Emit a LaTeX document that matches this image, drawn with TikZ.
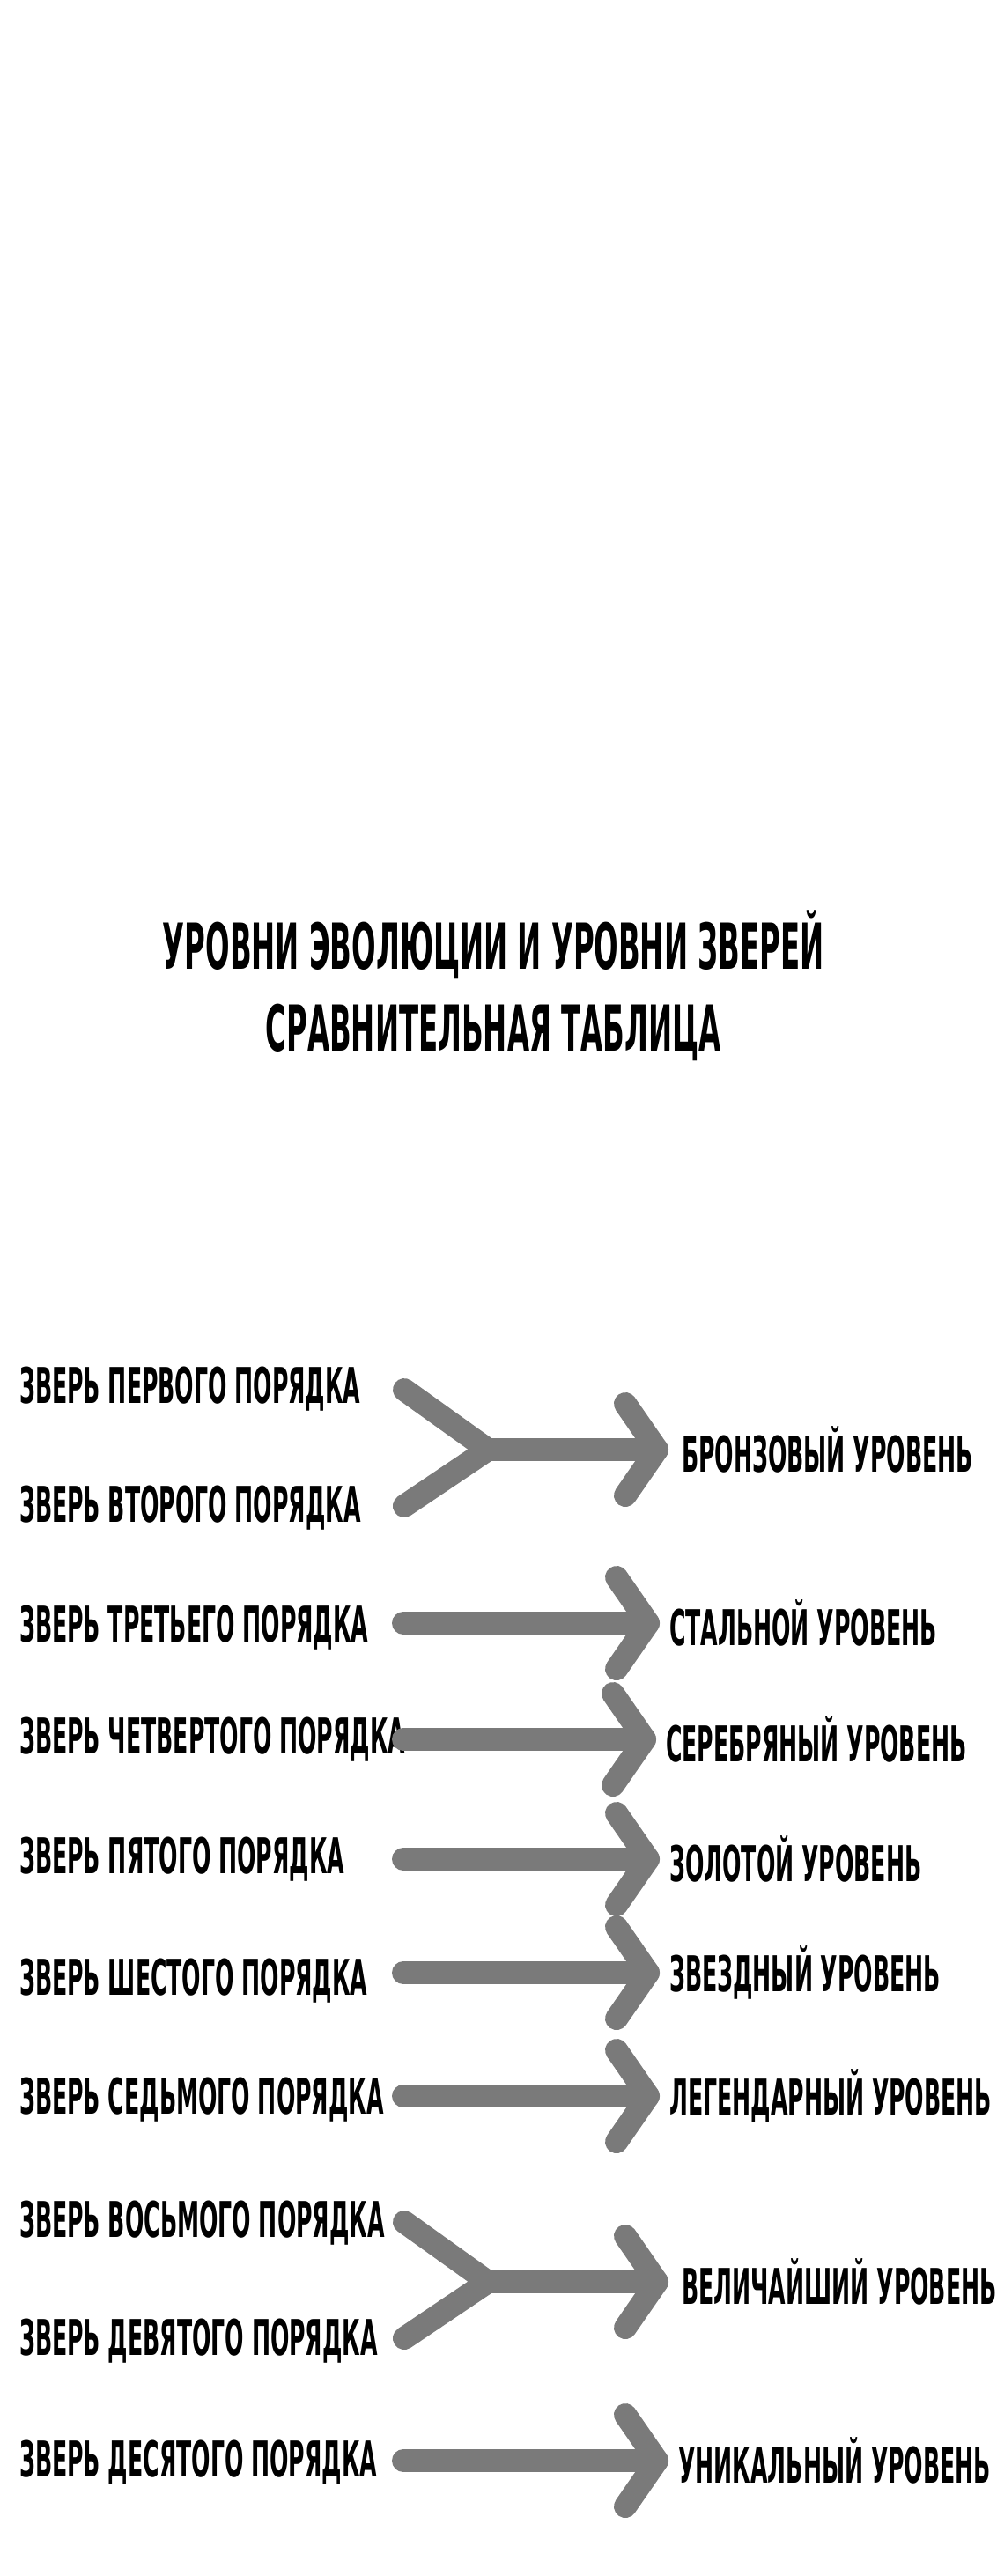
\documentclass[tikz,border=0pt]{standalone}
\usepackage{fontspec}
\setmainfont{DejaVu Sans Condensed}[BoldFont={DejaVu Sans Condensed Bold}]
\newfontfamily\handfont{DejaVu Sans Condensed Bold}[FakeStretch=0.5]
\usetikzlibrary{positioning}
\tikzset{
  beast/.style={anchor=west,inner sep=0pt,font=\handfont\fontsize{56}{56}\selectfont},
  level/.style={anchor=west,inner sep=0pt,font=\handfont\fontsize{56}{56}\selectfont},
  heading/.style={inner sep=0pt,font=\handfont\fontsize{72}{72}\selectfont},
  fat/.style={line width=26pt,color=black!52,line cap=round,line join=round}
}
\begin{document}
\begin{tikzpicture}[x=1pt,y=-1pt]
    \fill[white] (0,0) rectangle (1120,2925);
    \node[heading] (title1) at (560,1073) {УРОВНИ ЭВОЛЮЦИИ И УРОВНИ ЗВЕРЕЙ};
    \node[heading] (title2) at (560,1172) {СРАВНИТЕЛЬНАЯ ТАБЛИЦА};
    % left column
    \foreach \y/\t [count=\i] in {1577/ПЕРВОГО,1712/ВТОРОГО,1848/ТРЕТЬЕГО,1975/ЧЕТВЕРТОГО,2111/ПЯТОГО,2249/ШЕСТОГО,2384/СЕДЬМОГО,2524/ВОСЬМОГО,2658/ДЕВЯТОГО,2796/ДЕСЯТОГО}
      \node[beast] (b\i) at (22,\y) {ЗВЕРЬ \t\ ПОРЯДКА};
    % right column
    \node[level] (l1) at (774,1646) {БРОНЗОВЫЙ УРОВЕНЬ};
    \node[level] (l2) at (760,1843) {СТАЛЬНОЙ УРОВЕНЬ};
    \node[level] (l3) at (756,1975) {СЕРЕБРЯНЫЙ УРОВЕНЬ};
    \node[level] (l4) at (760,2111) {ЗОЛОТОЙ УРОВЕНЬ};
    \node[level] (l5) at (760,2240) {ЗВЕЗДНЫЙ УРОВЕНЬ};
    \node[level] (l6) at (760,2380) {ЛЕГЕНДАРНЫЙ УРОВЕНЬ};
    \node[level] (l7) at (774,2591) {ВЕЛИЧАЙШИЙ УРОВЕНЬ};
    \node[level] (l8) at (770,2794) {УНИКАЛЬНЫЙ УРОВЕНЬ};
    % forked arrows
    \foreach \l in {1,7} {
      \coordinate (fork\l) at ([xshift=-220pt]l\l.west);
      \coordinate (tip\l) at ([xshift=-28pt]l\l.west);
      \draw[fat] ([xshift=-95pt,yshift=-64pt]fork\l) -- (fork\l) -- ([xshift=-95pt,yshift=68pt]fork\l);
      \draw[fat] (fork\l) -- (tip\l);
      \draw[fat] ([xshift=-36pt,yshift=-52pt]tip\l) -- (tip\l) -- ([xshift=-36pt,yshift=52pt]tip\l);
    }
    % single arrows
    \foreach \l in {2,3,4,5,6,8} {
      \coordinate (tip\l) at ([xshift=-24pt]l\l.west);
      \coordinate (tail\l) at (tip\l -| 458,0);
      \draw[fat] (tail\l) -- (tip\l);
      \draw[fat] ([xshift=-36pt,yshift=-52pt]tip\l) -- (tip\l) -- ([xshift=-36pt,yshift=52pt]tip\l);
    }
\end{tikzpicture}
\end{document}
